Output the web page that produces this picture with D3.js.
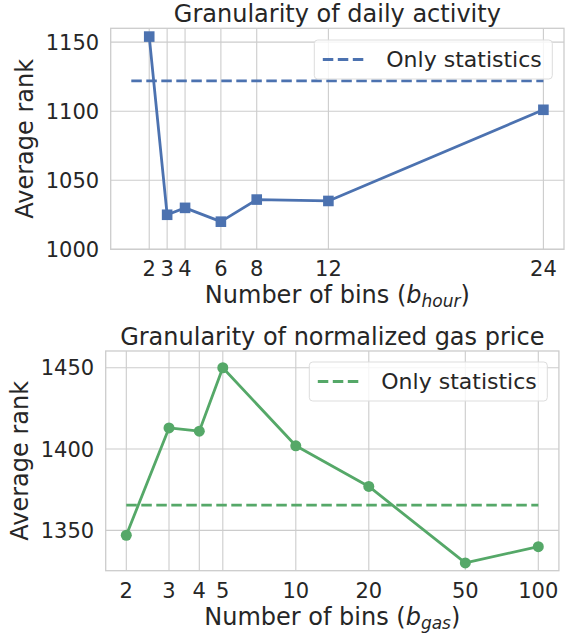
<!DOCTYPE html>
<html>
<head>
<meta charset="utf-8">
<script src="https://cdn.jsdelivr.net/npm/d3@7"></script>
<style>
  body { margin: 0; background: #fff; }
  svg { font-family: "DejaVu Sans", sans-serif; }
</style>
</head>
<body>
<svg id="chart" width="569" height="636"></svg>
<script>
// daily activity granularity
var hourBins = [2, 3, 4, 6, 8, 12, 24];
var hourRank = [1154, 1025, 1030, 1020, 1036, 1035, 1101];
var hourStat = 1122;
var hourStatSpan = [1, 24];
var hourYTicks = [1000, 1050, 1100, 1150];

// gas price granularity
var gasBins = [2, 3, 4, 5, 10, 20, 50, 100];
var gasRank = [1347, 1413, 1411, 1450, 1402, 1377, 1330, 1340];
var gasStat = 1365.5;
var gasStatSpan = [2, 100];
var gasYTicks = [1350, 1400, 1450];

var textColor = "#262626";
var gridColor = "#cccccc";
var blue = "#4c72b0";
var green = "#55a868";

var svg = d3.select("#chart");

function drawPanel(opt) {
    var x = opt.x, y = opt.y;
    var g = svg.append("g");
    var left = x.range()[0], right = x.range()[1];
    var top = y.range()[1], bottom = y.range()[0];

    // grid
    g.append("g").selectAll("line.gx")
        .data(opt.xTicks).enter().append("line")
        .attr("x1", d => x(d)).attr("x2", d => x(d))
        .attr("y1", top).attr("y2", bottom)
        .attr("stroke", gridColor).attr("stroke-width", 1.1);
    g.append("g").selectAll("line.gy")
        .data(opt.yTicks).enter().append("line")
        .attr("x1", left).attr("x2", right)
        .attr("y1", d => y(d)).attr("y2", d => y(d))
        .attr("stroke", gridColor).attr("stroke-width", 1.1);

    // frame
    g.append("rect")
        .attr("x", left).attr("y", top)
        .attr("width", right - left).attr("height", bottom - top)
        .attr("fill", "none").attr("stroke", gridColor).attr("stroke-width", 1.3);

    // tick labels
    g.append("g").selectAll("text")
        .data(opt.yTicks).enter().append("text")
        .attr("x", left - 11.5).attr("y", d => y(d)).attr("dy", "0.36em")
        .attr("text-anchor", "end").attr("fill", textColor)
        .style("font-size", "21px")
        .text(d => d);
    g.append("g").selectAll("text")
        .data(opt.xTicks).enter().append("text")
        .attr("x", d => x(d)).attr("y", bottom + 27)
        .attr("text-anchor", "middle").attr("fill", textColor)
        .style("font-size", "21px")
        .text(d => d);

    // stats reference line
    g.append("line")
        .attr("x1", x(opt.statSpan[0])).attr("x2", x(opt.statSpan[1]))
        .attr("y1", y(opt.stat)).attr("y2", y(opt.stat))
        .attr("stroke", opt.color).attr("stroke-width", 2.8)
        .attr("stroke-dasharray", "10.5,4.5");

    // series line
    var pts = opt.bins.map((b, i) => [b, opt.rank[i]]);
    g.append("path")
        .datum(pts)
        .attr("d", d3.line().x(d => x(d[0])).y(d => y(d[1])))
        .attr("fill", "none").attr("stroke", opt.color)
        .attr("stroke-width", 2.8).attr("stroke-linejoin", "round");

    if (opt.marker === "square") {
        g.append("g").selectAll("rect")
            .data(pts).enter().append("rect")
            .attr("x", d => x(d[0]) - 5.3).attr("y", d => y(d[1]) - 5.3)
            .attr("width", 10.6).attr("height", 10.6)
            .attr("fill", opt.color);
    } else {
        g.append("g").selectAll("circle")
            .data(pts).enter().append("circle")
            .attr("cx", d => x(d[0])).attr("cy", d => y(d[1]))
            .attr("r", 5.5).attr("fill", opt.color);
    }

    // legend
    var lg = opt.legend;
    g.append("rect")
        .attr("x", lg.x).attr("y", lg.y)
        .attr("width", lg.w).attr("height", lg.h)
        .attr("rx", 3.5)
        .attr("fill", "#fff").attr("fill-opacity", 0.8)
        .attr("stroke", "#dddddd").attr("stroke-width", 1);
    g.append("line")
        .attr("x1", lg.x + 8.5).attr("x2", lg.x + 52.5)
        .attr("y1", lg.y + lg.h / 2).attr("y2", lg.y + lg.h / 2)
        .attr("stroke", opt.color).attr("stroke-width", 2.8)
        .attr("stroke-dasharray", "10.5,4.5");
    g.append("text")
        .attr("x", lg.x + 72).attr("y", lg.y + lg.h / 2).attr("dy", "0.36em")
        .attr("fill", textColor).style("font-size", "22px")
        .text("Only statistics");

    // title
    g.append("text")
        .attr("x", (left + right) / 2).attr("y", top - 6)
        .attr("text-anchor", "middle").attr("fill", textColor)
        .style("font-size", "24px")
        .text(opt.title);

    // y label
    g.append("text")
        .attr("transform", "translate(" + opt.yLabelX + "," + ((top + bottom) / 2) + ") rotate(-90)")
        .attr("text-anchor", "middle").attr("fill", textColor)
        .style("font-size", "24px")
        .text("Average rank");

    // x label
    var xl = g.append("text")
        .attr("x", (left + right) / 2).attr("y", bottom + 54)
        .attr("text-anchor", "middle").attr("fill", textColor)
        .style("font-size", "24px");
    xl.append("tspan").text("Number of bins (");
    xl.append("tspan").style("font-style", "italic").text("b");
    xl.append("tspan").style("font-style", "italic").style("font-size", "17px")
        .attr("dy", 4).text(opt.sub);
    xl.append("tspan").attr("dy", -4).text(")");
}

drawPanel({
    x: d3.scaleLinear().domain([-0.15, 25.15]).range([110.7, 564]),
    y: d3.scaleLinear().domain([1000, 1160]).range([249.3, 28.3]),
    xTicks: hourBins,
    yTicks: hourYTicks,
    bins: hourBins,
    rank: hourRank,
    stat: hourStat,
    statSpan: hourStatSpan,
    color: blue,
    marker: "square",
    legend: {x: 314.3, y: 40, w: 238, h: 39},
    title: "Granularity of daily activity",
    yLabelX: 33,
    sub: "hour"
});

drawPanel({
    x: d3.scaleLog().domain([2 / Math.pow(50, 0.05), 100 * Math.pow(50, 0.05)]).range([105.7, 558.9]),
    y: d3.scaleLinear().domain([1325.2, 1460.3]).range([570.7, 351]),
    xTicks: gasBins,
    yTicks: gasYTicks,
    bins: gasBins,
    rank: gasRank,
    stat: gasStat,
    statSpan: gasStatSpan,
    color: green,
    marker: "circle",
    legend: {x: 309.3, y: 362, w: 238, h: 39},
    title: "Granularity of normalized gas price",
    yLabelX: 28,
    sub: "gas"
});
</script>
</body>
</html>
